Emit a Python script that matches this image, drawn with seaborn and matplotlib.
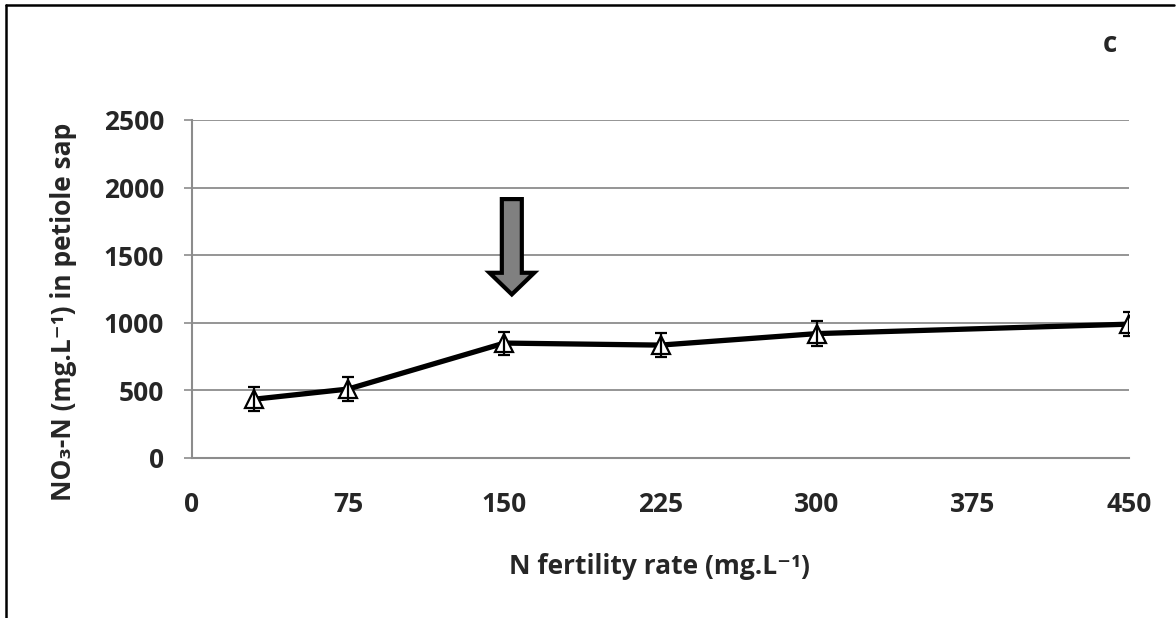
import matplotlib
matplotlib.use("Agg")
import matplotlib.pyplot as plt
from matplotlib.patches import FancyArrow
from matplotlib.lines import Line2D
import pandas as pd
import seaborn as sns

# N fertility rate (mg/L) and petiole-sap nitrate-N (mg/L)
n_rate = [30, 75, 150, 225, 300, 450]
no3_n = [435, 510, 850, 835, 920, 990]
no3_err = [90, 90, 85, 90, 90, 90]

x_ticks = [0, 75, 150, 225, 300, 375, 450]
y_ticks = [0, 500, 1000, 1500, 2000, 2500]
panel_label = "c"

df = pd.DataFrame({"rate": n_rate, "no3": no3_n, "err": no3_err})

sns.set_style("white")
plt.rcParams["font.family"] = ["Open Sans", "DejaVu Sans"]
plt.rcParams["font.weight"] = "bold"

W, H = 1176, 618
fig = plt.figure(figsize=(W / 100, H / 100), dpi=100)
ax = fig.add_axes([192 / W, (H - 458) / H, (1129 - 192) / W, (458 - 120) / H])

grid_c = "#8c8c8c"
for yv in y_ticks[1:]:
    ax.axhline(yv, color=grid_c, lw=1.3, zorder=0)

sns.lineplot(data=df, x="rate", y="no3", ax=ax, color="black", lw=3.8,
             zorder=2, legend=False)
ax.plot(df["rate"], df["no3"], ls="none", marker="^", ms=13.5,
        mfc="white", mec="black", mew=1.6, zorder=3)
ax.errorbar(df["rate"], df["no3"], yerr=df["err"], fmt="none",
            ecolor="black", elinewidth=1.6, capsize=4, capthick=1.6, zorder=4)

# arrow marking the 150 mg/L rate
ax.add_patch(FancyArrow(153.6, 1915, 0, -705, width=9.6, head_width=21.5,
                        head_length=160, length_includes_head=True,
                        facecolor="#808080", edgecolor="black", lw=3,
                        joinstyle="miter", zorder=5))

ax.set_xlim(0, 450)
ax.set_ylim(0, 2500)
ax.set_xticks(x_ticks)
ax.set_yticks(y_ticks)
ax.set_xticklabels([str(v) for v in x_ticks], fontsize=19, fontweight="bold")
ax.set_yticklabels([str(v) for v in y_ticks], fontsize=19, fontweight="bold")
ax.tick_params(axis="x", length=0, pad=24)
ax.tick_params(axis="y", length=6, width=1.2, color=grid_c, pad=14,
               direction="out", left=True)

for side in ["top", "right"]:
    ax.spines[side].set_visible(False)
for side in ["left", "bottom"]:
    ax.spines[side].set_color(grid_c)
    ax.spines[side].set_linewidth(1.5)

ax.set_xlabel("N fertility rate (mg.L\u207b\u00b9)", fontsize=19,
              fontweight="bold")
ax.xaxis.set_label_coords((659 - 192) / 937, (458 - 566) / 338)
ax.xaxis.label.set_va("center")
ax.set_ylabel("NO\u2083-N (mg.L\u207b\u00b9) in petiole sap",
              fontsize=19, fontweight="bold")
ax.yaxis.set_label_coords((64 - 192) / 937, (458 - 312) / 338)
ax.yaxis.label.set_va("center")

fig.text(1110 / W, 1 - 44 / H, panel_label, fontsize=20, fontweight="bold",
         ha="center", va="center")

# outer frame on the left and top edges
fig.add_artist(Line2D([6 / W, 6 / W], [0, 1 - 5 / H], transform=fig.transFigure,
                      color="black", lw=1.8))
fig.add_artist(Line2D([6 / W, 1174 / W], [1 - 5 / H, 1 - 5 / H],
                      transform=fig.transFigure, color="black", lw=1.8))

fig.savefig("out.png", dpi=100)
